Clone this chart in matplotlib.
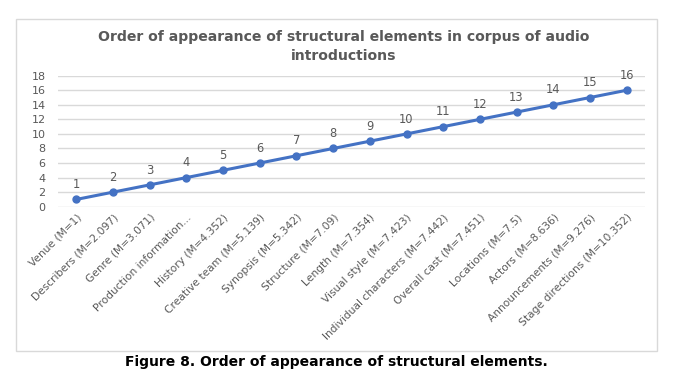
import matplotlib
matplotlib.use("Agg")
import matplotlib.pyplot as plt
from matplotlib.patches import Rectangle

# ----------------------------
# Data
# ----------------------------
categories = [
    "Venue (M=1)",
    "Describers (M=2.097)",
    "Genre (M=3.071)",
    "Production information...",
    "History (M=4.352)",
    "Creative team (M=5.139)",
    "Synopsis (M=5.342)",
    "Structure (M=7.09)",
    "Length (M=7.354)",
    "Visual style (M=7.423)",
    "Individual characters (M=7.442)",
    "Overall cast (M=7.451)",
    "Locations (M=7.5)",
    "Actors (M=8.636)",
    "Announcements (M=9.276)",
    "Stage directions (M=10.352)",
]
order = [1, 2, 3, 4, 5, 6, 7, 8, 9, 10, 11, 12, 13, 14, 15, 16]
y_ticks = [0, 2, 4, 6, 8, 10, 12, 14, 16, 18]

title = "Order of appearance of structural elements in corpus of audio\nintroductions"
caption = "Figure 8. Order of appearance of structural elements."

W, H = 681, 386
gray = "#595959"
blue = "#4472C4"

fig = plt.figure(figsize=(W / 100, H / 100), dpi=100)

# chart frame (light gray border)
fig.patches.append(Rectangle((16 / W, 1 - 351 / H), (657 - 16) / W, (351 - 19) / H,
                             transform=fig.transFigure, fill=False,
                             edgecolor="#d9d9d9", linewidth=1))

ax = fig.add_axes([58 / W, 1 - 206.7 / H, (645 - 58) / W, (206.7 - 75.7) / H])

x = list(range(len(categories)))
ax.plot(x, order, color=blue, linewidth=2.2, marker="o", markersize=5, zorder=3)

for xi, yi in zip(x, order):
    ax.annotate(str(yi), (xi, yi), textcoords="offset points", xytext=(0, 6),
                ha="center", va="bottom", fontsize=8.3, color=gray)

ax.set_xlim(-0.5, len(categories) - 0.5)
ax.set_ylim(0, 18)
ax.set_yticks(y_ticks)
ax.set_xticks(x)
ax.set_xticklabels(categories, rotation=45, ha="right", rotation_mode="anchor",
                   fontsize=7.7, color=gray)
ax.tick_params(axis="y", labelsize=8, labelcolor=gray, length=0, pad=9)
ax.tick_params(axis="x", length=0, pad=4)
ax.grid(axis="y", color="#d9d9d9", linewidth=1)
ax.set_axisbelow(True)
for s in ax.spines.values():
    s.set_visible(False)

fig.text(344 / W, 1 - 46.5 / H, title, ha="center", va="center", fontsize=10.1,
         fontweight="bold", color=gray, linespacing=1.5)
fig.text(336 / W, 1 - 362 / H, caption, ha="center", va="center", fontsize=10,
         fontweight="bold", color="black")

fig.savefig("out.png", dpi=100)
